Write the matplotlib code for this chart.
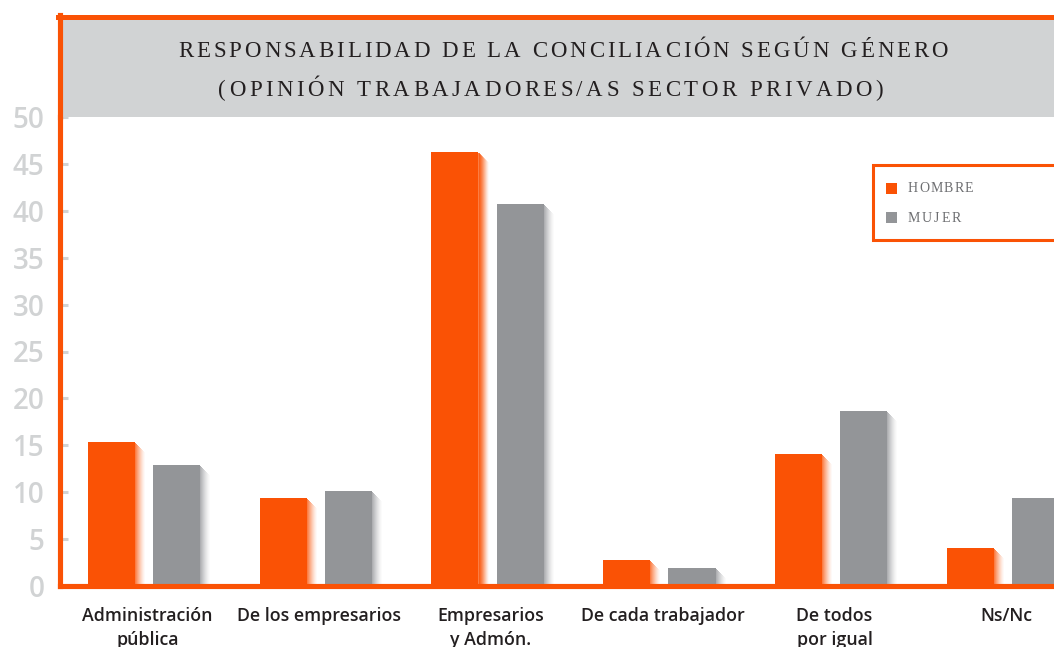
import numpy as np
import matplotlib
matplotlib.use("Agg")
import matplotlib.pyplot as plt
from matplotlib.patches import Rectangle
from matplotlib.lines import Line2D
from matplotlib.font_manager import FontProperties, findfont, get_font

# data (percent)
categories = ["Administración\npública", "De los empresarios", "Empresarios\ny Admón.",
              "De cada trabajador", "De todos\npor igual", "Ns/Nc"]
hombre = [15.3, 9.4, 46.3, 2.8, 14.1, 4.0]
mujer = [12.9, 10.1, 40.7, 1.9, 18.7, 9.4]
series_names = ["HOMBRE", "MUJER"]
yticks = [0, 5, 10, 15, 20, 25, 30, 35, 40, 45, 50]
title_lines = ["RESPONSABILIDAD DE LA CONCILIACIÓN SEGÚN GÉNERO",
               "(OPINIÓN TRABAJADORES/AS SECTOR PRIVADO)"]

ORANGE = "#fa5205"
GRAY = "#939598"
BAND = "#d1d3d4"
DARK = "#231f20"

W, H = 1054, 647
fig = plt.figure(figsize=(W / 100, H / 100), dpi=100)

# axes placed so the orange frame lines sit where they are in the reference
ax_left, ax_bottom, ax_top = 60, 586, 117
ax = fig.add_axes([ax_left / W, (H - ax_bottom) / H, (W - ax_left) / W, (ax_bottom - ax_top) / H])

x = np.arange(len(categories))
off = 0.19
bw = 0.274
xlo, xhi = -0.489, 5.297
ax.set_xlim(xlo, xhi)
ax.set_ylim(0, 50)

# pixel size in data units, used for the fading shadow to the right of each bar
px_x = (xhi - xlo) / (W - ax_left)
px_y = 50 / (ax_bottom - ax_top)


def shadow(xc, heights, color):
    n = 10
    for k in range(n):
        ax.bar(xc + bw / 2 + (k + 0.5) * px_x, np.maximum(np.array(heights) - (k + 1) * px_y, 0),
               width=px_x * 1.05, color=color, alpha=0.75 * (1 - k / n) ** 1.4,
               linewidth=0, zorder=1)


shadow(x - off, hombre, ORANGE)
shadow(x + off, mujer, GRAY)
ax.bar(x - off, hombre, width=bw, color=ORANGE, linewidth=0, zorder=2)
ax.bar(x + off, mujer, width=bw, color=GRAY, linewidth=0, zorder=2)

# spines
for s in ["top", "right"]:
    ax.spines[s].set_visible(False)
for s in ["left", "bottom"]:
    ax.spines[s].set_color(ORANGE)
    ax.spines[s].set_linewidth(3.7)
    ax.spines[s].set_zorder(5)

ax.set_yticks(yticks)
ax.set_yticklabels([str(v) for v in yticks])
ax.tick_params(axis="y", direction="in", length=6, width=2.2, color=BAND, pad=11,
               labelsize=20, labelcolor=BAND)
for lab in ax.get_yticklabels():
    lab.set_fontfamily("Open Sans")
    lab.set_fontweight("semibold")

ax.set_xticks(x + 0.02)
ax.set_xticklabels(categories)
ax.tick_params(axis="x", length=0, pad=15, labelsize=12.8, labelcolor=DARK)
for lab in ax.get_xticklabels():
    lab.set_fontfamily("Open Sans")
    lab.set_fontweight("semibold")
    lab.set_linespacing(1.45)

# grey title band and orange frame above the plot
fig.patches.append(Rectangle((62 / W, (H - 117) / H), 1 - 62 / W, (117 - 19) / H,
                             transform=fig.transFigure, facecolor=BAND, edgecolor="none", zorder=0))
fig.lines.append(Line2D([58 / W, 1], [(H - 17) / H] * 2, transform=fig.transFigure,
                        color=ORANGE, linewidth=3.6))
fig.lines.append(Line2D([ax_left / W] * 2, [(H - 15) / H, (H - ax_top) / H], transform=fig.transFigure,
                        color=ORANGE, linewidth=3.7))


def spaced_text(s, x0, baseline, size, width, color, family="Liberation Serif"):
    # letter-spaced text (the reference uses tracked small caps)
    font = get_font(findfont(FontProperties(family=family)))
    font.set_size(size, 100)
    adv = [font.load_char(ord(ch)).linearHoriAdvance / 65536 for ch in s]
    track = (width - sum(adv)) / (len(s) - 1)
    xp = x0
    for ch, a in zip(s, adv):
        if ch != " ":
            fig.text((xp + a / 2) / W, 1 - baseline / H, ch, ha="center", va="baseline",
                     fontsize=size, family=family, color=color, zorder=8)
        xp += a + track


spaced_text(title_lines[0], 178, 57, 16.5, 770, DARK)
spaced_text(title_lines[1], 218, 96, 16.5, 665, DARK)

# legend box, drawn by hand so the labels can be tracked like the reference
fig.patches.append(Rectangle((873 / W, 1 - 240 / H), 1, (240 - 165) / H, transform=fig.transFigure,
                             facecolor="white", edgecolor=ORANGE, linewidth=2.2, zorder=6))
for i, (name, col) in enumerate(zip(series_names, [ORANGE, GRAY])):
    yc = 188 + 29 * i
    fig.patches.append(Rectangle((886 / W, 1 - (yc + 5.5) / H), 11 / W, 11 / H,
                                 transform=fig.transFigure, facecolor=col, edgecolor="none", zorder=7))
    spaced_text(name, 908, yc + 4.5, 10, {"HOMBRE": 65, "MUJER": 53}[name], "#6d6e71")

fig.savefig("out.png", dpi=100)
